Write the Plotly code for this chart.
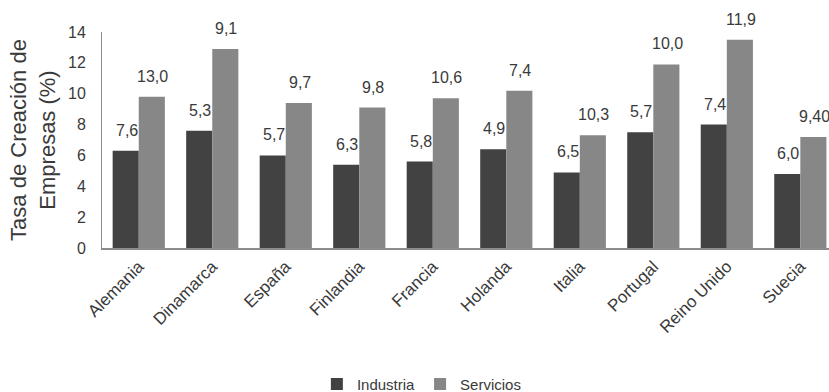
import plotly.graph_objects as go

paises = ["Alemania", "Dinamarca", "España", "Finlandia", "Francia",
          "Holanda", "Italia", "Portugal", "Reino Unido", "Suecia"]
industria = [6.3, 7.6, 6.0, 5.4, 5.6, 6.4, 4.9, 7.5, 8.0, 4.8]
servicios = [9.8, 12.9, 9.4, 9.1, 9.7, 10.2, 7.3, 11.9, 13.5, 7.2]
etiquetas_industria = ["7,6", "5,3", "5,7", "6,3", "5,8", "4,9", "6,5", "5,7", "7,4", "6,0"]
etiquetas_servicios = ["13,0", "9,1", "9,7", "9,8", "10,6", "7,4", "10,3", "10,0", "11,9", "9,40"]

FONT = "Liberation Sans, Arial, sans-serif"
TXT = "#3a3a3a"

fig = go.Figure()
fig.add_trace(go.Bar(name="Industria", x=paises, y=industria,
                     marker=dict(color="#424242", line=dict(width=0))))
fig.add_trace(go.Bar(name="Servicios", x=paises, y=servicios,
                     marker=dict(color="#878787", line=dict(width=0))))

for i, p in enumerate(paises):
    fig.add_annotation(x=p, y=industria[i], text=etiquetas_industria[i],
                       xref="x", yref="y", showarrow=False, xshift=-12, yshift=10,
                       yanchor="bottom", font=dict(family=FONT, size=16, color=TXT))
    fig.add_annotation(x=p, y=servicios[i], text=etiquetas_servicios[i],
                       xref="x", yref="y", showarrow=False, xshift=14, yshift=10,
                       yanchor="bottom", font=dict(family=FONT, size=16, color=TXT))

fig.update_layout(
    width=829, height=392,
    margin=dict(l=102, r=0, t=32, b=143.5),
    paper_bgcolor="white", plot_bgcolor="white",
    barmode="group", bargap=0.29, bargroupgap=0,
    font=dict(family=FONT, color=TXT),
    showlegend=True,
    legend=dict(orientation="h", xref="paper", x=0.44, xanchor="center",
                yref="container", y=0.02, yanchor="middle",
                font=dict(family=FONT, size=15, color=TXT), itemwidth=30,
                traceorder="normal"),
    xaxis=dict(range=[-0.5, 9.39], tickangle=-45, showline=True, linecolor="#8c8c8c",
               linewidth=2, ticks="", tickfont=dict(family=FONT, size=17, color=TXT),
               showgrid=False, zeroline=False, automargin=False),
    yaxis=dict(range=[0, 14], dtick=2, showline=True, linecolor="#8c8c8c", linewidth=1,
               ticks="", tickfont=dict(family=FONT, size=16, color=TXT),
               ticklabelstandoff=12,
               showgrid=False, zeroline=False, automargin=False,
               title=dict(text="Tasa de Creación de<br>Empresas (%)", standoff=6,
                          font=dict(family=FONT, size=22, color=TXT))),
)

fig.write_html("out.html")
